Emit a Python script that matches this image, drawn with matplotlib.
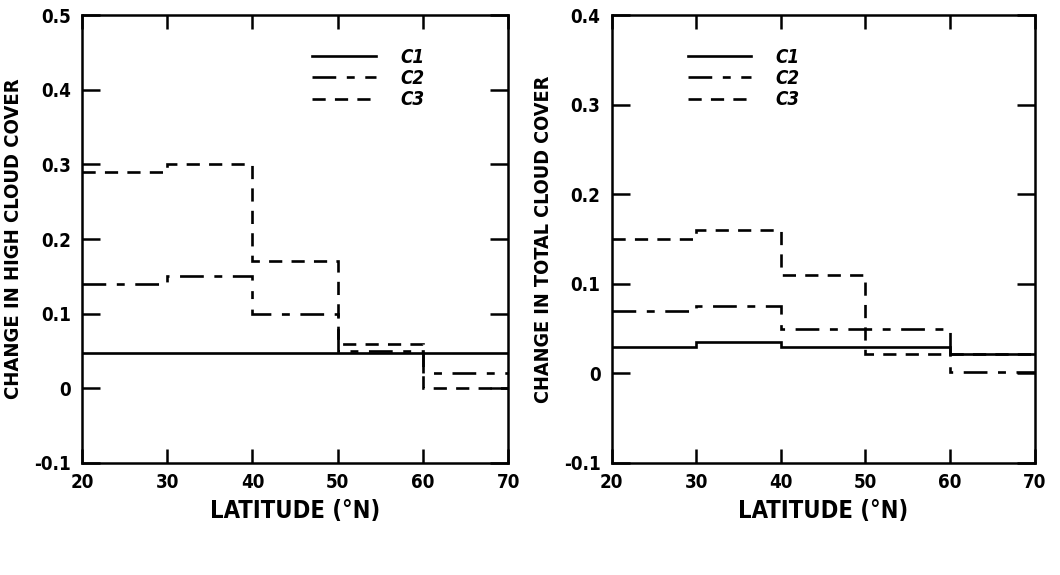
import matplotlib
matplotlib.use("Agg")
import matplotlib.pyplot as plt
from matplotlib.lines import Line2D

# ---- data ----
lat_edges = [20, 30, 40, 50, 60, 70]
series_names = ["C1", "C2", "C3"]

high_c1 = [0.048, 0.048, 0.048, 0.048, 0.048]
high_c2 = [0.14, 0.15, 0.10, 0.05, 0.02]
high_c3 = [0.29, 0.30, 0.17, 0.06, 0.0]

total_c1 = [0.03, 0.035, 0.03, 0.03, 0.022]
total_c2 = [0.07, 0.075, 0.05, 0.05, 0.002]
total_c3 = [0.15, 0.16, 0.11, 0.022, 0.022]

xticks = [20, 30, 40, 50, 60, 70]
high_yticks = [-0.1, 0, 0.1, 0.2, 0.3, 0.4, 0.5]
high_ylabels = ["-0.1", "0", "0.1", "0.2", "0.3", "0.4", "0.5"]
total_yticks = [-0.1, 0, 0.1, 0.2, 0.3, 0.4]
total_ylabels = ["-0.1", "0", "0.1", "0.2", "0.3", "0.4"]

plt.rcParams["font.family"] = ["DejaVu Sans"]
plt.rcParams["font.stretch"] = "condensed"
plt.rcParams["font.weight"] = "bold"

fig = plt.figure(figsize=(10.6, 5.75), dpi=100)
ax1 = fig.add_axes([0.0774, 0.1948, 0.402, 0.779])
ax2 = fig.add_axes([0.577, 0.1948, 0.399, 0.779])

LW = 1.9
styles = {
    "C1": dict(linestyle="-"),
    "C2": dict(linestyle=(0, (9, 4, 3, 4))),
    "C3": dict(linestyle=(0, (5, 3.5))),
}


def setup(ax, series, yticks, ylabels, ylim, ylabel, ylsize, legend_anchor):
    for name, vals in zip(series_names, series):
        ax.stairs(vals, lat_edges, baseline=None, color="black", linewidth=LW,
                  **styles[name])
    ax.set_xlim(20, 70)
    ax.set_ylim(*ylim)
    ax.set_xticks(xticks)
    ax.set_xticklabels([str(t) for t in xticks])
    ax.set_yticks(yticks)
    ax.set_yticklabels(ylabels)
    for s in ax.spines.values():
        s.set_linewidth(1.8)
    ax.tick_params(axis="x", direction="in", length=10, width=1.8, top=True,
                   labelsize=13.5, pad=7)
    ax.tick_params(axis="y", direction="in", length=13, width=1.8, right=True,
                   labelsize=13.5, pad=8)
    for lbl in ax.get_xticklabels() + ax.get_yticklabels():
        lbl.set_fontweight("bold")
    ax.set_xlabel("LATITUDE (°N)", fontsize=17, fontweight="bold", labelpad=5)
    ax.set_ylabel(ylabel, fontsize=ylsize, fontweight="bold", labelpad=8)
    handles = [Line2D([], [], color="black", linewidth=LW, **styles[n])
               for n in series_names]
    ax.legend(handles, series_names, loc="upper left",
              bbox_to_anchor=legend_anchor, frameon=False,
              handlelength=3.4, handletextpad=1.3, labelspacing=0.12,
              prop=dict(size=13.5, weight="bold", style="italic"))


setup(ax1, [high_c1, high_c2, high_c3], high_yticks, high_ylabels, (-0.1, 0.5),
      "CHANGE IN HIGH CLOUD COVER", 14.5, (0.5, 0.965))
setup(ax2, [total_c1, total_c2, total_c3], total_yticks, total_ylabels, (-0.1, 0.4),
      "CHANGE IN TOTAL CLOUD COVER", 14.2, (0.14, 0.965))

fig.savefig("out.png", dpi=100)
